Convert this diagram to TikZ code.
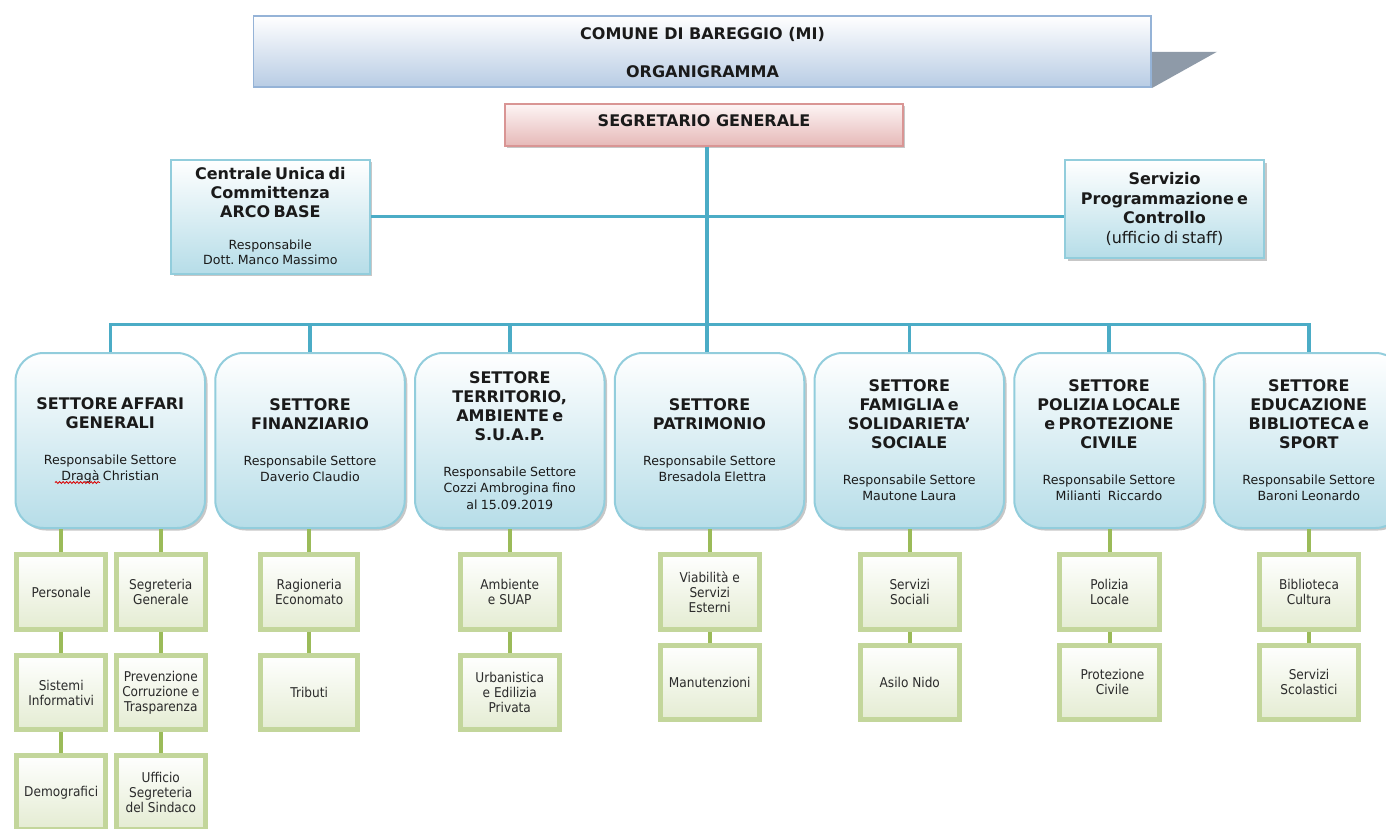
\documentclass[tikz,border=0pt]{standalone}
\usepackage{fontspec}
\setmainfont{DejaVu Sans}
\newfontfamily\gfam[FakeStretch=0.9]{DejaVu Sans}
\usetikzlibrary{shadows,decorations.pathmorphing}
\definecolor{tealline}{HTML}{4BACC6}
\definecolor{secborder}{HTML}{92CDDC}
\definecolor{secbot}{HTML}{B6DDE8}
\definecolor{gborder}{HTML}{C3D69B}
\definecolor{gbot}{HTML}{E4ECD2}
\definecolor{glinecol}{HTML}{9BBB59}
\definecolor{titborder}{HTML}{95B3D7}
\definecolor{titbot}{HTML}{B8CCE4}
\definecolor{wedgecol}{HTML}{8E9AA8}
\definecolor{segborder}{HTML}{D99594}
\definecolor{segtop}{HTML}{FDF5F5}
\definecolor{segbot}{HTML}{E6B9B8}
\definecolor{txt}{HTML}{1A1A1A}
\definecolor{gtxt}{HTML}{2B2B2B}
\newcommand\stitle{\fontsize{16}{19}\selectfont\bfseries}
\newcommand\sresp{\fontsize{12.6}{16.5}\selectfont}
\newcommand\cresp{\fontsize{12.6}{15.5}\selectfont}
\newcommand\gfont{\gfam\fontsize{13.5}{15}\selectfont}
\begin{document}
\begin{tikzpicture}[x=1pt,y=-1pt,text=txt,
  shad/.style={drop shadow={shadow xshift=2.5pt,shadow yshift=-2.5pt,fill=black,opacity=0.22}},
  titbox/.style={draw=titborder,line width=1.8pt,top color=white,bottom color=titbot,minimum width=897.7pt,minimum height=71.5pt,inner sep=0pt},
  segbox/.style={draw=segborder,line width=1.8pt,top color=segtop,bottom color=segbot,minimum width=398pt,minimum height=42pt,inner sep=0pt,shad},
  ttext/.style={font=\fontsize{16}{19}\selectfont\bfseries,anchor=base,inner sep=0pt},
  staff/.style={draw=secborder,line width=2pt,top color=white,bottom color=secbot,align=center,inner sep=0pt,shad},
  sector/.style={draw=secborder,line width=2pt,rounded corners=28pt,top color=white,bottom color=secbot,minimum width=189.5pt,minimum height=175pt,text width=184pt,align=center,inner sep=0pt,shad},
  gbox/.style={draw=gborder,line width=5pt,top color=white,bottom color=gbot,minimum height=74.4pt,align=center,inner sep=0pt,font=\gfont,text=gtxt},
  gwa/.style={minimum width=89.5pt},
  gwb/.style={minimum width=96.5pt},
  gwc/.style={minimum width=99.5pt},
  tline/.style={draw=tealline,line width=3.5pt},
  gline/.style={draw=glinecol,line width=4pt}]
\useasboundingbox (0,0) rectangle (1386,828);
\fill[white] (0,0) rectangle (1386,828);
\clip (0,0) rectangle (1386,828);

% title
\node[titbox] (title) at (702.25,51.35) {};
\fill[wedgecol] (title.east) ++(0,0.4) -- ++(65,0) -- (title.south east) -- cycle;
\node[ttext] (t1) at (702.5,39.2) {COMUNE DI BAREGGIO (MI)};
\node[ttext] (t2) at (702.5,77.5) {ORGANIGRAMMA};

% segretario
\node[segbox] (seg) at (703.75,124.7) {};
\node[ttext] (segt) at (704,126.5) {SEGRETARIO GENERALE};

% staff boxes
\node[staff,minimum width=198.7pt,minimum height=114pt,text width=195pt] (cuc) at (270.35,216.5)
 {{\stitle Centrale Unica di\\Committenza\\ARCO BASE\par}\vspace{16pt}{\cresp Responsabile\\Dott.\ Manco Massimo\par}};
\node[staff,minimum width=199pt,minimum height=98pt,text width=195pt] (scp) at (1164.5,209)
 {{\fontsize{16}{19.6}\selectfont\bfseries Servizio\\Programmazione e\\Controllo\par}{\fontsize{16}{19.7}\selectfont (ufficio di staff)\par}};

% sectors
\node[sector] (s1) at (110.25,440.5) {{\stitle SETTORE AFFARI\\GENERALI\par}\vspace{19pt}{\sresp Responsabile Settore\\Dragà Christian\par}};
\node[sector] (s2) at (310,440.5) {{\stitle SETTORE\\FINANZIARIO\par}\vspace{19pt}{\sresp Responsabile Settore\\Daverio Claudio\par}};
\node[sector] (s3) at (509.75,440.5) {{\stitle SETTORE\\TERRITORIO,\\AMBIENTE e\\S.U.A.P.\par}\vspace{19pt}{\sresp Responsabile Settore\\Cozzi Ambrogina fino\\al 15.09.2019\par}};
\node[sector] (s4) at (709.5,440.5) {{\stitle SETTORE\\PATRIMONIO\par}\vspace{19pt}{\sresp Responsabile Settore\\\hspace*{6pt}Bresadola Elettra\par}};
\node[sector] (s5) at (909.25,440.5) {{\stitle SETTORE\\FAMIGLIA e\\SOLIDARIETA’\\SOCIALE\par}\vspace{19pt}{\sresp Responsabile Settore\\Mautone Laura\par}};
\node[sector] (s6) at (1109,440.5) {{\stitle SETTORE\\POLIZIA LOCALE\\e PROTEZIONE\\CIVILE\par}\vspace{19pt}{\sresp Responsabile Settore\\Milianti\ \ Riccardo\par}};
\node[sector] (s7) at (1308.75,440.5) {{\stitle SETTORE\\EDUCAZIONE\\BIBLIOTECA e\\SPORT\par}\vspace{19pt}{\sresp Responsabile Settore\\Baroni Leonardo\par}};

% spell-check squiggle
\draw[red!85!black,line width=0.8pt,decorate,decoration={snake,amplitude=1pt,segment length=3.5pt}] (55,482.5) -- (100,482.5);

% green boxes
\node[gbox,gwa] (a1) at (61.2,592) {Personale};
\node[gbox,gwa] (a2) at (61.2,692.7) {Sistemi\\Informativi};
\node[gbox,gwa] (a3) at (61.2,792.3) {Demografici};
\node[gbox,gwa] (b1) at (160.8,592) {Segreteria\\Generale};
\node[gbox,gwa] (b2) at (160.8,692.7) {Prevenzione\\Corruzione e\\Trasparenza};
\node[gbox,gwa] (b3) at (160.8,792.3) {Ufficio\\Segreteria\\del Sindaco};
\node[gbox,gwb] (c1) at (309.2,592) {Ragioneria\\Economato};
\node[gbox,gwb] (c2) at (309.2,692.7) {Tributi};
\node[gbox,gwc] (d1) at (509.75,592) {Ambiente\\e SUAP};
\node[gbox,gwc] (d2) at (509.75,692.7) {Urbanistica\\e Edilizia\\Privata};
\node[gbox,gwc] (e1) at (709.75,592) {Viabilità e\\Servizi\\Esterni};
\node[gbox,gwc] (e2) at (709.75,682.3) {Manutenzioni};
\node[gbox,gwc] (f1) at (909.75,592) {Servizi\\Sociali};
\node[gbox,gwc] (f2) at (909.75,682.3) {Asilo Nido};
\node[gbox,gwc] (g1) at (1109.5,592) {Polizia\\Locale};
\node[gbox,gwc] (g2) at (1109.5,682.3) {\hspace*{6pt}Protezione\\\hspace*{6pt}Civile};
\node[gbox,gwc] (h1) at (1309,592) {Biblioteca\\Cultura};
\node[gbox,gwc] (h2) at (1309,682.3) {Servizi\\Scolastici};

% teal connectors
\coordinate (trunk) at (707,324.5);
\draw[tline] (seg.south -| trunk) -- (s4.north -| trunk);
\draw[tline] (cuc.east) -- (cuc.east -| scp.west);
\draw[tline] (s1.north) -- (s1.north |- trunk) -- (s7.north |- trunk) -- (s7.north);
\foreach \s in {s2,s3,s5,s6} \draw[tline] (\s.north |- trunk) -- (\s.north);

% green connectors
\draw[gline] (s1.south -| a1.north) -- (a1.north);
\draw[gline] (a1.south) -- (a2.north);
\draw[gline] (a2.south) -- (a3.north);
\draw[gline] (s1.south -| b1.north) -- (b1.north);
\draw[gline] (b1.south) -- (b2.north);
\draw[gline] (b2.south) -- (b3.north);
\draw[gline] (s2.south -| c1.north) -- (c1.north);
\draw[gline] (c1.south) -- (c2.north);
\draw[gline] (s3.south -| d1.north) -- (d1.north);
\draw[gline] (d1.south) -- (d2.north);
\draw[gline] (s4.south -| e1.north) -- (e1.north);
\draw[gline] (e1.south) -- (e2.north);
\draw[gline] (s5.south -| f1.north) -- (f1.north);
\draw[gline] (f1.south) -- (f2.north);
\draw[gline] (s6.south -| g1.north) -- (g1.north);
\draw[gline] (g1.south) -- (g2.north);
\draw[gline] (s7.south -| h1.north) -- (h1.north);
\draw[gline] (h1.south) -- (h2.north);
\end{tikzpicture}
\end{document}
